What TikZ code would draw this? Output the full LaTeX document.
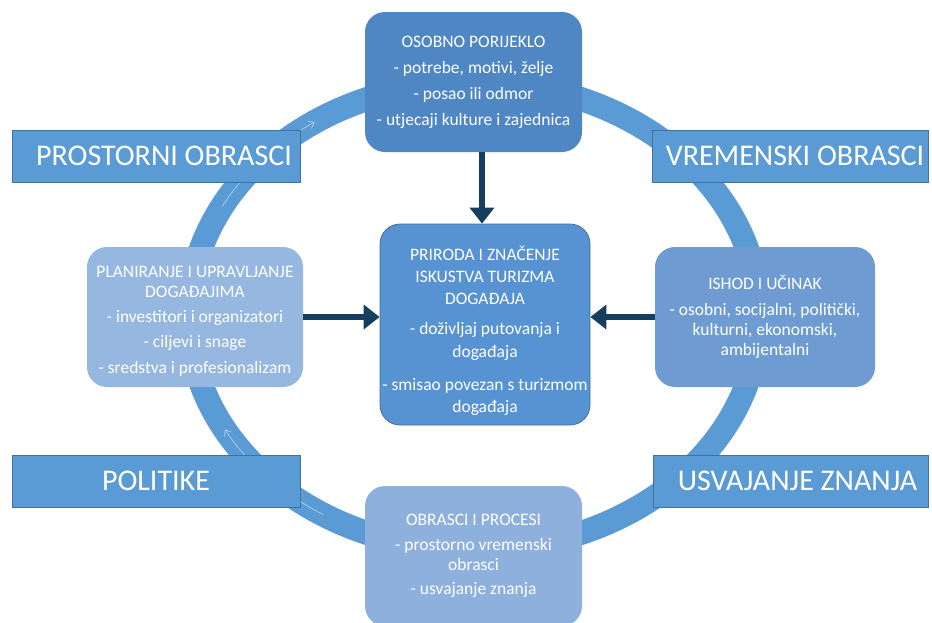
\documentclass[tikz,border=0pt]{standalone}
\usepackage{fontspec}
\setmainfont{Carlito}
\usetikzlibrary{arrows.meta}

\definecolor{ringblue}{HTML}{5B9BD5}
\definecolor{bandline}{HTML}{41719C}
\definecolor{topblue}{HTML}{4F86C4}
\definecolor{coreblue}{HTML}{5792D2}
\definecolor{planblue}{HTML}{96B7DF}
\definecolor{impactblue}{HTML}{6E9CD2}
\definecolor{procblue}{HTML}{8DB0DD}
\definecolor{navy}{HTML}{163E5E}

\tikzset{
  card/.style={rounded corners=20pt, align=center, text=white, inner sep=0pt,
    font=\fontsize{17.5}{21}\selectfont},
  band/.style={fill=ringblue, draw=bandline, line width=1pt, text=white,
    minimum height=52pt, inner sep=0pt, font=\fontsize{30}{32}\selectfont},
  flow/.style={draw=navy, line width=5.5pt, -{Triangle[length=16pt,width=24pt]}},
  faint/.style={white, opacity=.45, line width=.8pt, -{Straight Barb[length=5pt,width=8pt]}},
}

\begin{document}
\begin{tikzpicture}[x=1pt,y=-1pt]
  \useasboundingbox (0,0) rectangle (932,622);
  \clip (0,0) rectangle (932,622);
  \fill[white] (0,0) rectangle (932,622);

  \def\cx{474}
  \def\cy{316}
  \draw[ringblue, line width=24pt] (\cx,\cy) ellipse [x radius=285pt, y radius=234pt];
  \draw[faint] ({\cx+285*cos(152)},{\cy-234*sin(152)}) arc[start angle=152, end angle=124, x radius=285pt, y radius=234pt];
  \draw[faint] ({\cx+285*cos(238)},{\cy-234*sin(238)}) arc[start angle=238, end angle=209, x radius=285pt, y radius=234pt];

  \node[card, fill=topblue, minimum width=217pt, minimum height=140pt] (origin) at (473.5,82)
    {OSOBNO PORIJEKLO\\[5pt]- potrebe, motivi, želje\\[5pt]- posao ili odmor\\[5pt]- utjecaji kulture i zajednica};
  \node[card, fill=coreblue, draw=bandline, line width=.8pt, minimum width=210pt, minimum height=201pt] (core) at (485,324.5) {};
  \node[card] (coretext) at ([yshift=-6pt]core.center)
    {PRIRODA I ZNAČENJE\\[1pt]ISKUSTVA TURIZMA\\[1pt]DOGAĐAJA\\[9pt]- doživljaj putovanja i\\[2pt]događaja\\[12pt]- smisao povezan s turizmom\\[1pt]događaja};
  \node[card, fill=planblue, minimum width=216pt, minimum height=140pt] (plan) at (195,317) {};
  \node[card] (plantext) at ([yshift=-4pt]plan.center)
    {PLANIRANJE I UPRAVLJANJE\\[-1pt]DOGAĐAJIMA\\[4pt]- investitori i organizatori\\[4pt]- ciljevi i snage\\[5pt]- sredstva i profesionalizam};
  \node[card, fill=impactblue, minimum width=220pt, minimum height=140pt] (impact) at (765,317)
    {ISHOD I UČINAK\\[5pt]- osobni, socijalni, politički,\\[-1.5pt]kulturni, ekonomski,\\[-1pt]ambijentalni};
  \node[card, fill=procblue, minimum width=217pt, minimum height=140pt] (process) at (473.5,556)
    {OBRASCI I PROCESI\\[4pt]- prostorno vremenski\\[-1pt]obrasci\\[3pt]- usvajanje znanja};

  \node[band, minimum width=288pt] (spatial) at (156,156) {\hspace*{16pt}PROSTORNI OBRASCI};
  \node[band, minimum width=276pt] (temporal) at (790,156) {\hspace*{10pt}VREMENSKI OBRASCI};
  \node[band, minimum width=288pt] (policy) at (156,481) {POLITIKE};
  \node[band, minimum width=275pt] (learning) at (790.5,481) {\hspace*{14pt}USVAJANJE ZNANJA};

  \draw[flow] ([xshift=-3pt]core.north |- origin.south) -- ([xshift=-3pt]core.north);
  \draw[flow] (plan.east) -- (plan.east -| core.west);
  \draw[flow] (impact.west) -- (impact.west -| core.east);
\end{tikzpicture}
\end{document}
